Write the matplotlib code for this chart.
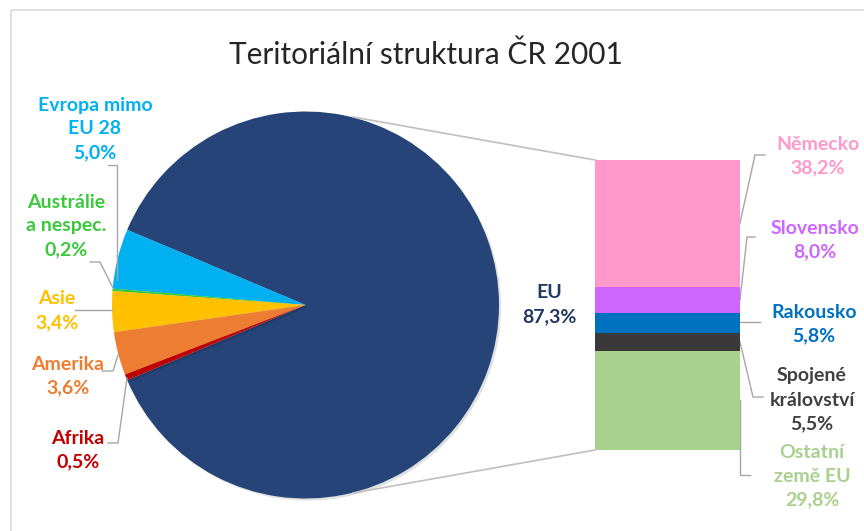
import matplotlib
matplotlib.use("Agg")
import matplotlib.pyplot as plt
import matplotlib.patheffects as pe
from matplotlib.patches import Rectangle

# ---- data ----
pie_labels = ["EU", "Evropa mimo\nEU 28", "Austrálie\na nespec.", "Asie", "Amerika", "Afrika"]
pie_values = [87.3, 5.0, 0.2, 3.4, 3.6, 0.5]
pie_colors = ["#264478", "#00B0F0", "#33CC33", "#FFC000", "#ED7D31", "#C00000"]
pie_text_colors = ["#203864", "#00B0F0", "#3CC83C", "#FFC000", "#ED7D31", "#C00000"]

bar_labels = ["Německo", "Slovensko", "Rakousko", "Spojené\nkrálovství", "Ostatní\nzemě EU"]
bar_values = [38.2, 8.0, 5.8, 5.5, 29.8]
bar_colors = ["#FF99CC", "#CC66FF", "#0070C0", "#3A3838", "#A9D18E"]
bar_text_colors = ["#FF99CC", "#CC66FF", "#0070C0", "#404040", "#A9D18E"]

title = "Teritoriální struktura ČR 2001"

def pct(v):
    return f"{v:.1f}%".replace(".", ",")

W, H = 864, 531
fig = plt.figure(figsize=(W / 100, H / 100), dpi=100)
fig.patch.set_facecolor("white")
plt.rcParams["font.family"] = ["Lato", "DejaVu Sans"]

ax = fig.add_axes([0, 0, 1, 1])

def Y(y):
    return H - y

# frame
ax.add_patch(Rectangle((11, Y(540)), 900, 530, fill=False, edgecolor="#D9D9D9", lw=1.2))

# pie
cx, cy, r = 305.5, 305, 193.5
start = -pie_values[0] / sum(pie_values) * 360 / 2
wedges, _ = ax.pie(pie_values, colors=pie_colors, startangle=start, counterclock=True,
                   center=(cx, Y(cy)), radius=r, frame=True,
                   wedgeprops=dict(linewidth=0))
for w in wedges:
    w.set_path_effects([pe.SimplePatchShadow(offset=(1.5, -1.5), shadow_rgbFace="#000000", alpha=0.12), pe.Normal()])

# bar of EU breakdown
bax = fig.add_axes([595 / W, (H - 450) / H, 145 / W, 290 / H])
bottom = 0
for v, c in zip(bar_values[::-1], bar_colors[::-1]):
    bax.bar(0, v, bottom=bottom, width=1.0, color=c, linewidth=0)
    bottom += v
bax.set_xlim(-0.5, 0.5)
bax.set_ylim(0, sum(bar_values))
bax.axis("off")

# connector lines pie -> bar
gray = "#BFBFBF"
ax.plot([353, 595], [Y(117), Y(160)], color=gray, lw=1.2)
ax.plot([353, 595], [Y(493), Y(450)], color=gray, lw=1.2)

# title
ax.text(426, Y(55), title, ha="center", va="center", fontsize=21.5, color="#262626")

fs = 14
lead = "#A6A6A6"
def label(x, y, txt, color):
    ax.text(x, Y(y), txt, ha="center", va="center", fontsize=fs, fontweight="bold",
            color=color, linespacing=1.5)

def leader(xs, ys):
    ax.plot(xs, [Y(v) for v in ys], color=lead, lw=1)

# pie labels (centre positions in pixels)
pie_pos = [(549, 305), (95, 129), (66, 226), (57, 311), (68, 376), (78, 450)]
for name, v, col, (x, y) in zip(pie_labels, pie_values, pie_text_colors, pie_pos):
    label(x, y, name + "\n" + pct(v), col)

leader([108, 117, 117], [165, 165, 280])
leader([90, 100, 113], [262, 262, 288])
leader([75, 112], [310, 310])
leader([102, 113, 118], [371, 371, 355])
leader([108, 118, 127], [443, 443, 378])

bar_pos = [(818, 156), (815, 240), (814, 324), (812, 400), (812, 476)]
for name, v, col, (x, y) in zip(bar_labels, bar_values, bar_text_colors, bar_pos):
    label(x, y, name + "\n" + pct(v), col)

leader([765, 755, 740], [155, 155, 223])
leader([755, 747, 740], [237, 237, 300])
leader([760, 740], [322, 322])
leader([740, 753, 763], [342, 397, 397])
leader([740, 740, 750], [400, 475, 475])

ax.set_xlim(0, W)
ax.set_ylim(0, H)
ax.set_aspect("auto")
ax.axis("off")

fig.savefig("out.png", dpi=100, facecolor="white")
